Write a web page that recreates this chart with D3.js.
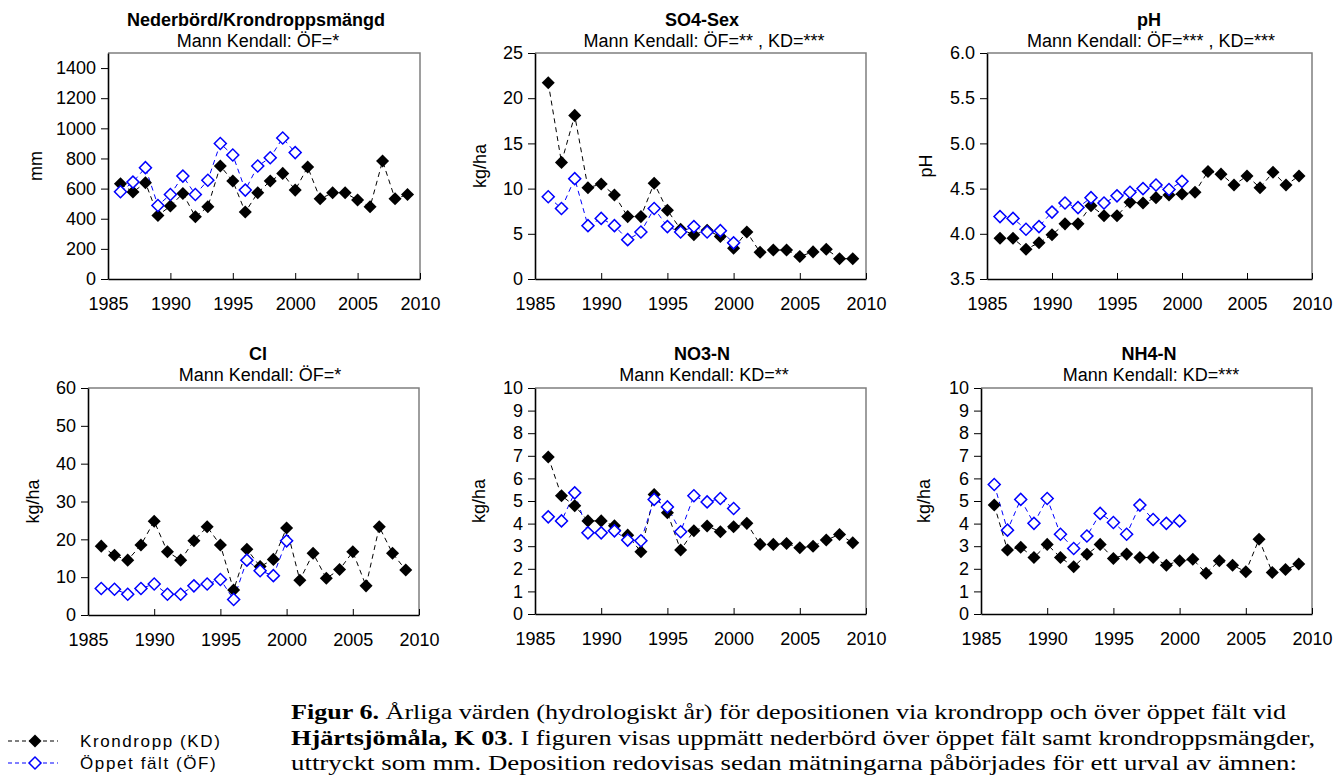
<!DOCTYPE html>
<html>
<head>
<meta charset="utf-8">
<script src="https://cdn.jsdelivr.net/npm/d3@7"></script>
<style>
  body { margin: 0; background: #fff; }
  svg { display: block; font-family: "Liberation Sans", Arial, sans-serif; }
  .caption { font-family: "Liberation Serif", "Times New Roman", serif; }
</style>
</head>
<body>
<div id="chart"></div>
<script>
// years with data
const years = [1986, 1987, 1988, 1989, 1990, 1991, 1992, 1993, 1994, 1995, 1996, 1997,
  1998, 1999, 2000, 2001, 2002, 2003, 2004, 2005, 2006, 2007, 2008, 2009];
const yearsOF = [1986, 1987, 1988, 1989, 1990, 1991, 1992, 1993, 1994, 1995, 1996, 1997,
  1998, 1999, 2000];
const xTicks = [1985, 1990, 1995, 2000, 2005, 2010];

// Nederbörd / krondroppsmängd (mm)
const precipKD = [632, 577, 639, 422, 484, 568, 413, 479, 750, 650, 444, 572,
  650, 701, 590, 743, 532, 572, 572, 524, 479, 783, 532, 561];
const precipOF = [579, 643, 739, 488, 561, 683, 561, 655, 899, 823, 590, 750, 805, 936, 839];
const precipTicks = [0, 200, 400, 600, 800, 1000, 1200, 1400];

// SO4-Sex (kg/ha)
const so4KD = [21.7, 12.9, 18.1, 10.1, 10.5, 9.3, 6.9, 6.9, 10.6, 7.6, 5.5, 4.9,
  5.4, 4.7, 3.4, 5.2, 2.95, 3.2, 3.2, 2.5, 3.0, 3.3, 2.25, 2.25];
const so4OF = [9.1, 7.8, 11.1, 5.9, 6.7, 5.9, 4.35, 5.2, 7.8, 5.8, 5.2, 5.8, 5.2, 5.35, 4.0];
const so4Ticks = [0, 5, 10, 15, 20, 25];

// pH
const phKD = [3.95, 3.95, 3.83, 3.90, 3.99, 4.11, 4.11, 4.31, 4.20, 4.20, 4.35, 4.34,
  4.40, 4.43, 4.44, 4.46, 4.69, 4.66, 4.54, 4.64, 4.51, 4.68, 4.54, 4.64];
const phOF = [4.19, 4.17, 4.05, 4.08, 4.24, 4.34, 4.29, 4.40, 4.34, 4.42, 4.46, 4.50, 4.54, 4.49, 4.58];
const phTicks = [3.5, 4.0, 4.5, 5.0, 5.5, 6.0];

// Cl (kg/ha)
const clKD = [18.2, 15.8, 14.5, 18.5, 24.8, 16.7, 14.5, 19.6, 23.3, 18.5, 6.6, 17.4,
  12.8, 14.7, 23.0, 9.2, 16.3, 9.7, 12.0, 16.7, 7.7, 23.3, 16.3, 11.9];
const clOF = [7.0, 6.8, 5.5, 7.0, 8.2, 5.5, 5.5, 7.7, 8.2, 9.4, 4.1, 14.5, 11.7, 10.4, 19.6];
const clTicks = [0, 10, 20, 30, 40, 50, 60];

// NO3-N (kg/ha)
const no3KD = [6.95, 5.23, 4.79, 4.12, 4.12, 3.90, 3.49, 2.75, 5.29, 4.48, 2.83, 3.68,
  3.89, 3.64, 3.86, 4.01, 3.08, 3.08, 3.12, 2.93, 3.00, 3.27, 3.52, 3.15];
const no3OF = [4.30, 4.12, 5.36, 3.59, 3.59, 3.68, 3.27, 3.24, 5.07, 4.74, 3.64, 5.23, 4.96, 5.11, 4.67];

// NH4-N (kg/ha)
const nh4KD = [4.82, 2.83, 2.95, 2.50, 3.08, 2.50, 2.09, 2.64, 3.08, 2.46, 2.65, 2.50,
  2.50, 2.16, 2.36, 2.42, 1.80, 2.36, 2.16, 1.87, 3.31, 1.84, 1.97, 2.21];
const nh4OF = [5.73, 3.71, 5.07, 4.01, 5.11, 3.53, 2.90, 3.45, 4.45, 4.05, 3.53, 4.82, 4.18, 4.01, 4.12];
const nTicks = [0, 1, 2, 3, 4, 5, 6, 7, 8, 9, 10];

const width = 1344, height = 776;
const blue = "#0000ff";

const panels = [
  { title: "Nederbörd/Krondroppsmängd", sub: "Mann Kendall: ÖF=*", ylab: "mm",
    kd: precipKD, of: precipOF, domain: [0, 1500], ticks: precipTicks, fmt: d3.format("d"),
    x0: 108, x1: 420, y0: 53, y1: 279, tx: 256, ty: 26, lx: 42 },
  { title: "SO4-Sex", sub: "Mann Kendall: ÖF=** , KD=***", ylab: "kg/ha",
    kd: so4KD, of: so4OF, domain: [0, 25], ticks: so4Ticks, fmt: d3.format("d"),
    x0: 535, x1: 866, y0: 53, y1: 279, tx: 702, ty: 26, lx: 486 },
  { title: "pH", sub: "Mann Kendall: ÖF=*** , KD=***", ylab: "pH",
    kd: phKD, of: phOF, domain: [3.5, 6.0], ticks: phTicks, fmt: d3.format(".1f"),
    x0: 987, x1: 1312, y0: 53, y1: 279, tx: 1149, ty: 26, lx: 932 },
  { title: "Cl", sub: "Mann Kendall: ÖF=*", ylab: "kg/ha",
    kd: clKD, of: clOF, domain: [0, 60], ticks: clTicks, fmt: d3.format("d"),
    x0: 88, x1: 419, y0: 388, y1: 615, tx: 258, ty: 360, lx: 39 },
  { title: "NO3-N", sub: "Mann Kendall: KD=**", ylab: "kg/ha",
    kd: no3KD, of: no3OF, domain: [0, 10], ticks: nTicks, fmt: d3.format("d"),
    x0: 535, x1: 866, y0: 388, y1: 614, tx: 702, ty: 360, lx: 485 },
  { title: "NH4-N", sub: "Mann Kendall: KD=***", ylab: "kg/ha",
    kd: nh4KD, of: nh4OF, domain: [0, 10], ticks: nTicks, fmt: d3.format("d"),
    x0: 981, x1: 1312, y0: 388, y1: 614, tx: 1149, ty: 360, lx: 930 }
];

const svg = d3.select("#chart").append("svg")
  .attr("width", width)
  .attr("height", height)
  .attr("viewBox", [0, 0, width, height]);

const diamond = d3.symbol().type(d3.symbolSquare).size(85);
const diamondOpen = d3.symbol().type(d3.symbolSquare).size(72);

panels.forEach(function(p) {
  let x = d3.scaleLinear().domain([1985, 2010]).range([p.x0, p.x1]);
  let y = d3.scaleLinear().domain(p.domain).range([p.y1, p.y0]);

  let g = svg.append("g");

  // title + subtitle
  g.append("text")
    .attr("x", p.tx).attr("y", p.ty)
    .attr("text-anchor", "middle")
    .attr("font-size", "18px").attr("font-weight", "bold")
    .text(p.title);
  g.append("text")
    .attr("x", p.tx + 2).attr("y", p.ty + 21)
    .attr("text-anchor", "middle")
    .attr("font-size", "18px")
    .text(p.sub);

  // frame: top & right in gray
  g.append("path")
    .attr("d", `M${p.x0},${p.y0}H${p.x1}V${p.y1}`)
    .attr("fill", "none")
    .attr("stroke", "#7f7f7f")
    .attr("stroke-width", 1.5);

  // axes
  g.append("g")
    .attr("transform", `translate(0,${p.y1})`)
    .call(d3.axisBottom(x).tickValues(xTicks).tickFormat(d3.format("d"))
      .tickSizeInner(-6).tickSizeOuter(0).tickPadding(18))
    .attr("font-family", null).attr("font-size", "18px")
    .call(a => a.selectAll("text").attr("fill", "#000"))
    .call(a => a.select(".domain").attr("stroke", "#000").attr("stroke-width", 1.6))
    .call(a => a.selectAll(".tick line").attr("stroke", "#000"));

  g.append("g")
    .attr("transform", `translate(${p.x0},0)`)
    .call(d3.axisLeft(y).tickValues(p.ticks).tickFormat(p.fmt)
      .tickSizeInner(7).tickSizeOuter(0).tickPadding(5))
    .attr("font-family", null).attr("font-size", "18px")
    .call(a => a.selectAll("text").attr("fill", "#000"))
    .call(a => a.select(".domain").attr("stroke", "#000").attr("stroke-width", 1.6))
    .call(a => a.selectAll(".tick line").attr("stroke", "#000"));

  // y label
  g.append("text")
    .attr("transform", `translate(${p.lx},${(p.y0 + p.y1) / 2}) rotate(-90)`)
    .attr("text-anchor", "middle")
    .attr("font-size", "18px")
    .text(p.ylab);

  let kdData = years.map((yr, i) => [yr, p.kd[i]]);
  let ofData = yearsOF.map((yr, i) => [yr, p.of[i]]);

  let line = d3.line().x(d => x(d[0])).y(d => y(d[1]));

  g.append("path")
    .attr("d", line(kdData))
    .attr("fill", "none").attr("stroke", "#000")
    .attr("stroke-width", 1).attr("stroke-dasharray", "5,4");
  g.append("path")
    .attr("d", line(ofData))
    .attr("fill", "none").attr("stroke", blue)
    .attr("stroke-width", 1).attr("stroke-dasharray", "5,4");

  g.append("g").selectAll("path")
    .data(kdData)
    .join("path")
      .attr("transform", d => `translate(${x(d[0])},${y(d[1])}) rotate(45)`)
      .attr("d", diamond)
      .attr("fill", "#000");

  g.append("g").selectAll("path")
    .data(ofData)
    .join("path")
      .attr("transform", d => `translate(${x(d[0])},${y(d[1])}) rotate(45)`)
      .attr("d", diamondOpen)
      .attr("fill", "#fff")
      .attr("stroke", blue)
      .attr("stroke-width", 1.5);
});

// legend
const legendItems = [
  { label: "Krondropp (KD)", color: "#000", fill: "#000", y: 741 },
  { label: "Öppet fält (ÖF)", color: blue, fill: "#fff", y: 763 }
];
const legend = svg.append("g");
legendItems.forEach(function(it) {
  legend.append("line")
    .attr("x1", 8).attr("x2", 58).attr("y1", it.y).attr("y2", it.y)
    .attr("stroke", it.color).attr("stroke-width", 1.2).attr("stroke-dasharray", "4,3");
  legend.append("path")
    .attr("transform", `translate(35,${it.y}) rotate(45)`)
    .attr("d", it.fill === "#000" ? diamond : diamondOpen)
    .attr("fill", it.fill).attr("stroke", it.fill === "#000" ? "none" : it.color)
    .attr("stroke-width", 1.5);
  legend.append("text")
    .attr("x", 80).attr("y", it.y + 6)
    .attr("font-size", "17px")
    .attr("letter-spacing", "1.6px")
    .text(it.label);
});

// caption
const captionLines = [
  { parts: [["Figur 6.", true], [" Årliga värden (hydrologiskt år) för depositionen via krondropp och över öppet fält vid", false]], y: 719, len: 995 },
  { parts: [["Hjärtsjömåla, K 03", true], [". I figuren visas uppmätt nederbörd över öppet fält samt krondroppsmängder,", false]], y: 745, len: 1024 },
  { parts: [["uttryckt som mm. Deposition redovisas sedan mätningarna påbörjades för ett urval av ämnen:", false]], y: 770, len: 1006 }
];
captionLines.forEach(function(l) {
  let t = svg.append("text")
    .attr("class", "caption")
    .attr("x", 291).attr("y", l.y)
    .attr("font-size", "22px")
    .attr("textLength", l.len)
    .attr("lengthAdjust", "spacingAndGlyphs");
  l.parts.forEach(function(pt) {
    t.append("tspan")
      .attr("font-weight", pt[1] ? "bold" : "normal")
      .text(pt[0]);
  });
});
</script>
</body>
</html>
